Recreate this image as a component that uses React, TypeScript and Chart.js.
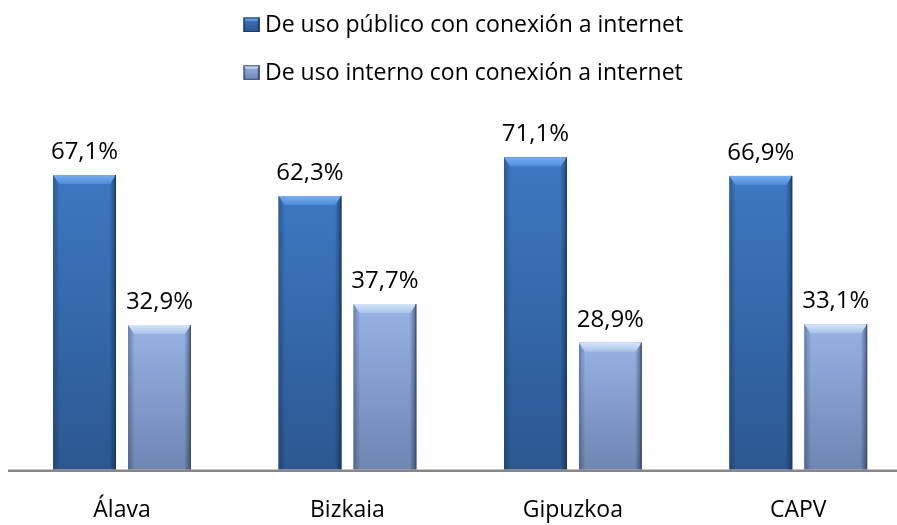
import { useEffect, useRef } from "react";
import { Chart, registerables } from "chart.js";

Chart.register(...registerables);

const categories = ["Álava", "Bizkaia", "Gipuzkoa", "CAPV"];
const seriesNames = [
  "De uso público con conexión a internet",
  "De uso interno con conexión a internet",
];
const publicValues = [67.1, 62.3, 71.1, 66.9];
const internalValues = [32.9, 37.7, 28.9, 33.1];

const FONT = '"Open Sans", sans-serif';

type BarStyle = {
  mid: string;
  top: string;
  bottom: string;
  bevelTop: string;
  bevelBottom: string;
  edge: string;
};

const barStyles: BarStyle[] = [
  { mid: "#3468a8", top: "#3d78c2", bottom: "#2b5890", bevelTop: "#76aef3", bevelBottom: "#4f8bd6", edge: "#1c3a60" },
  { mid: "#8299c8", top: "#97b2e4", bottom: "#6f86b3", bevelTop: "#d6e5f9", bevelBottom: "#a9c2ea", edge: "#3d4f70" },
];

function drawBevel(
  ctx: CanvasRenderingContext2D,
  left: number,
  top: number,
  right: number,
  bottom: number,
  st: BarStyle,
  b: number
) {
  const w = right - left;
  const hgt = bottom - top;
  if (w <= 0 || hgt <= 0) return;
  ctx.save();
  const g = ctx.createLinearGradient(0, top, 0, bottom);
  g.addColorStop(0, st.top);
  g.addColorStop(1, st.bottom);
  ctx.fillStyle = g;
  ctx.fillRect(left, top, w, hgt);

  const sw = b * 1.1;
  const gl = ctx.createLinearGradient(left, 0, left + sw, 0);
  gl.addColorStop(0, "rgba(10,25,50,0.32)");
  gl.addColorStop(1, "rgba(10,25,50,0)");
  ctx.fillStyle = gl;
  ctx.fillRect(left, top, sw, hgt);

  const gr = ctx.createLinearGradient(right - sw, 0, right, 0);
  gr.addColorStop(0, "rgba(10,25,50,0)");
  gr.addColorStop(1, "rgba(10,25,50,0.5)");
  ctx.fillStyle = gr;
  ctx.fillRect(right - sw, top, sw, hgt);

  const h = Math.min(b * 1.5, hgt);
  ctx.beginPath();
  ctx.moveTo(left, top);
  ctx.lineTo(right, top);
  ctx.lineTo(right - b, top + h);
  ctx.lineTo(left + b, top + h);
  ctx.closePath();
  const gt = ctx.createLinearGradient(0, top, 0, top + h);
  gt.addColorStop(0, st.bevelTop);
  gt.addColorStop(1, st.bevelBottom);
  ctx.fillStyle = gt;
  ctx.fill();

  ctx.fillStyle = st.edge;
  ctx.fillRect(right - 1, top, 1, hgt);
  ctx.restore();
}

const bevelPlugin = {
  id: "bevelBars",
  afterDatasetsDraw(chart: any) {
    const ctx: CanvasRenderingContext2D = chart.ctx;
    chart.data.datasets.forEach((ds: any, di: number) => {
      const meta = chart.getDatasetMeta(di);
      const st = barStyles[di];
      meta.data.forEach((el: any, i: number) => {
        const left = el.x - el.width / 2;
        const right = el.x + el.width / 2;
        drawBevel(ctx, left, el.y, right, el.base, st, 6);
        const v = ds.data[i] as number;
        ctx.save();
        ctx.fillStyle = "#000";
        ctx.font = `24px ${FONT}`;
        ctx.textAlign = "center";
        ctx.textBaseline = "alphabetic";
        ctx.fillText(v.toFixed(1).replace(".", ",") + "%", el.x, el.y - 16);
        ctx.restore();
      });
    });
    // baseline
    ctx.save();
    ctx.fillStyle = "#878787";
    ctx.fillRect(8, 469.5, 897 - 8, 2.5);
    ctx.restore();
  },
  afterDraw(chart: any) {
    const ctx: CanvasRenderingContext2D = chart.ctx;
    const rows = [17.5, 65.3];
    chart.data.datasets.forEach((ds: any, di: number) => {
      const y = rows[di];
      drawBevel(ctx, 243.5, y, 259.5, y + 14.5, barStyles[di], 2.5);
      ctx.save();
      ctx.strokeStyle = barStyles[di].edge;
      ctx.lineWidth = 1;
      ctx.strokeRect(244, y + 0.5, 15, 13.5);
      ctx.fillStyle = "#000";
      ctx.font = `23px ${FONT}`;
      ctx.textAlign = "left";
      ctx.textBaseline = "alphabetic";
      ctx.fillText(ds.label, 265, y + 14.3);
      ctx.restore();
    });
  },
};

export default function App() {
  const ref = useRef<HTMLCanvasElement>(null);
  useEffect(() => {
    const chart = new Chart(ref.current!, {
      type: "bar",
      data: {
        labels: categories,
        datasets: [
          { label: seriesNames[0], data: publicValues, backgroundColor: barStyles[0].mid, borderWidth: 0 },
          { label: seriesNames[1], data: internalValues, backgroundColor: barStyles[1].mid, borderWidth: 0 },
        ],
      },
      options: {
        responsive: false,
        animation: false,
        devicePixelRatio: 1,
        layout: { padding: { top: 118.4, left: 9.3, right: 0, bottom: 0 } },
        datasets: {
          bar: { categoryPercentage: 0.665, barPercentage: 0.837 },
        },
        plugins: {
          legend: { display: false },
          tooltip: { enabled: false },
          title: { display: false },
        },
        scales: {
          x: {
            grid: { display: false, drawTicks: false },
            border: { display: false },
            ticks: {
              color: "#000",
              font: { family: FONT, size: 23 },
              padding: 27,
              maxRotation: 0,
              autoSkip: false,
            },
            afterFit(scale: any) {
              scale.height = 55.5;
            },
          },
          y: {
            display: false,
            min: 0,
            max: 80,
          },
        },
      } as any,
      plugins: [bevelPlugin],
    });
    return () => chart.destroy();
  }, []);
  return (
    <div
      style={{
        position: "fixed",
        left: 0,
        top: 0,
        width: 897,
        height: 525,
        overflow: "hidden",
        background: "#fff",
      }}
    >
      <canvas ref={ref} width={911} height={525} style={{ display: "block", width: 911, height: 525 }} />
    </div>
  );
}
